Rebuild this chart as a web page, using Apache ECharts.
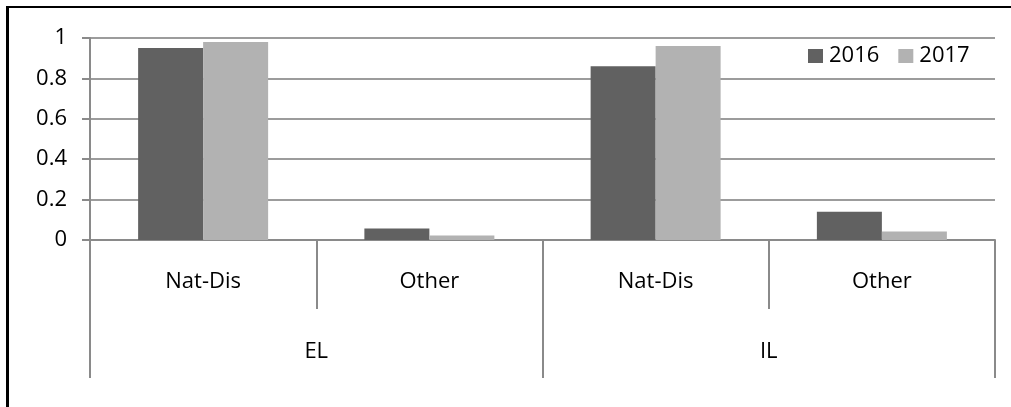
<!DOCTYPE html>
<html>
<head>
<meta charset="utf-8">
<script src="https://cdn.jsdelivr.net/npm/echarts@6/dist/echarts.min.js"></script>
<style>
  html, body { margin: 0; padding: 0; background: #fff; }
  #chart { width: 1011px; height: 407px; }
</style>
</head>
<body>
<div id="chart"></div>
<script>
// Inner categories (first axis level) and outer groups (second level)
const categories = ['Nat-Dis', 'Other', 'Nat-Dis', 'Other'];
const groups = ['EL', 'IL'];
const seriesNames = ['2016', '2017'];
const values2016 = [0.95, 0.057, 0.86, 0.14];
const values2017 = [0.98, 0.022, 0.96, 0.042];
const yMin = 0, yMax = 1, yStep = 0.2;

const FONT = '"Open Sans", sans-serif';
const AXIS_COLOR = '#8a8a8a';
const GRID_COLOR = '#9c9c9c';

const chart = echarts.init(document.getElementById('chart'), null, { renderer: 'canvas' });

chart.setOption({
  animation: false,
  backgroundColor: '#ffffff',
  textStyle: { fontFamily: FONT },
  grid: { left: 90, right: 16, top: 38, bottom: 167, containLabel: false },
  legend: {
    data: seriesNames,
    left: 808,
    top: 45,
    padding: 0,
    icon: 'rect',
    itemWidth: 15,
    itemHeight: 14,
    itemGap: 19,
    textStyle: { fontFamily: FONT, fontSize: 22, color: '#000', padding: [0, 0, 0, 1] }
  },
  xAxis: [
    {
      type: 'category',
      data: categories,
      position: 'bottom',
      axisLine: { show: true, lineStyle: { color: AXIS_COLOR, width: 2 } },
      axisTick: { show: true, interval: 0, length: 69, lineStyle: { color: AXIS_COLOR, width: 2 } },
      axisLabel: { interval: 0, margin: 31, fontFamily: FONT, fontSize: 22, color: '#000' },
      splitLine: { show: false }
    },
    {
      type: 'category',
      data: groups,
      position: 'bottom',
      offset: 0,
      axisLine: { show: false },
      axisTick: { show: true, interval: 0, length: 138, lineStyle: { color: AXIS_COLOR, width: 2 } },
      axisLabel: { interval: 0, margin: 101, fontFamily: FONT, fontSize: 22, color: '#000' },
      splitLine: { show: false }
    }
  ],
  yAxis: {
    type: 'value',
    min: yMin,
    max: yMax,
    interval: yStep,
    axisLine: { show: true, lineStyle: { color: AXIS_COLOR, width: 2 } },
    axisTick: { show: true, length: 8, lineStyle: { color: AXIS_COLOR, width: 2 } },
    axisLabel: { margin: 23, fontFamily: FONT, fontSize: 22, color: '#000' },
    splitLine: { show: true, lineStyle: { color: GRID_COLOR, width: 2 } }
  },
  series: [
    {
      name: seriesNames[0],
      type: 'bar',
      xAxisIndex: 0,
      data: values2016,
      barWidth: 65,
      barGap: '0%',
      itemStyle: { color: '#616161' }
    },
    {
      name: seriesNames[1],
      type: 'bar',
      xAxisIndex: 0,
      data: values2017,
      barWidth: 65,
      barGap: '0%',
      itemStyle: { color: '#b2b2b2' }
    }
  ],
  graphic: [
    // frame lines along the top and left edges
    { type: 'rect', shape: { x: 6, y: 6, width: 1005, height: 2 }, style: { fill: '#000' }, silent: true },
    { type: 'rect', shape: { x: 6, y: 6, width: 3, height: 401 }, style: { fill: '#000' }, silent: true }
  ]
});
</script>
</body>
</html>
